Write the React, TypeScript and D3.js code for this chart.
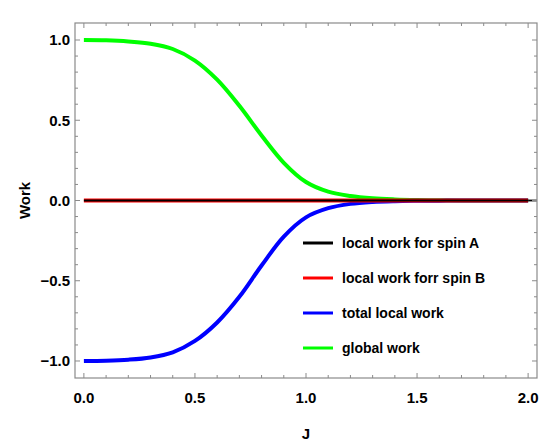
import React from "react";
import * as d3 from "d3";

const J = [0, 0.1, 0.2, 0.3, 0.4, 0.5, 0.6, 0.7, 0.8, 0.9, 1.0, 1.1, 1.2, 1.3, 1.4, 1.5, 1.6, 1.7, 1.8, 1.9, 2.0];
const localA = [0, 0, 0, 0, 0, 0, 0, 0, 0, 0, 0, 0, 0, 0, 0, 0, 0, 0, 0, 0, 0];
const localB = [0, 0, 0, 0, 0, 0, 0, 0, 0, 0, 0, 0, 0, 0, 0, 0, 0, 0, 0, 0, 0];
const totalLocal = [-1.0, -0.998, -0.992, -0.978, -0.946, -0.875, -0.76, -0.6, -0.405, -0.225, -0.105, -0.048, -0.021, -0.009, -0.004, -0.002, -0.001, 0, 0, 0, 0];
const globalWork = [1.0, 0.998, 0.991, 0.977, 0.944, 0.872, 0.753, 0.59, 0.405, 0.235, 0.115, 0.055, 0.028, 0.014, 0.007, 0.003, 0.001, 0, 0, 0, 0];

const xTicks = [0, 0.5, 1.0, 1.5, 2.0];
const yTicks = [-1.0, -0.5, 0.0, 0.5, 1.0];
const xTickLabels = ["0.0", "0.5", "1.0", "1.5", "2.0"];
const yTickLabels = ["\u22121.0", "\u22120.5", "0.0", "0.5", "1.0"];
const legendLabels = ["local work for spin A", "local work forr spin B", "total local work", "global work"];
const colors = ["#000000", "#ff0000", "#0000ff", "#00ff00"];

export default function App() {
  const left = 75, right = 537, top = 23, bottom = 378;
  const x = d3.scaleLinear().domain([-0.04, 2.04]).range([left, right]);
  const y = d3.scaleLinear().domain([-1.106, 1.106]).range([bottom, top]);
  const line = d3
    .line<number>()
    .x((_, i) => x(J[i]))
    .y((d) => y(d))
    .curve(d3.curveCatmullRom.alpha(0.5));

  const minorX = d3.range(0, 21).map((i) => i / 10);
  const minorY = d3.range(-10, 11).map((i) => i / 10);
  const isMajor = (v: number) => Math.abs(v * 2 - Math.round(v * 2)) < 1e-6;
  const font = "'Liberation Sans', Arial, sans-serif";
  const frameColor = "#8a8a8a";

  return (
    <svg width={550} height={448} style={{ position: "absolute", left: 0, top: 0, background: "#fff" }}>
      {/* series */}
      <path d={line(globalWork) || ""} fill="none" stroke={colors[3]} strokeWidth={4} />
      <path d={line(totalLocal) || ""} fill="none" stroke={colors[2]} strokeWidth={4} />
      <path d={line(localB) || ""} fill="none" stroke={colors[1]} strokeWidth={4} />
      <path d={line(localA) || ""} fill="none" stroke={colors[0]} strokeWidth={1.8} />
      <line x1={x(2.0)} x2={right} y1={y(0)} y2={y(0)} stroke="#000" strokeWidth={1.8} />

      {/* frame */}
      <rect x={left} y={top} width={right - left} height={bottom - top} fill="none" stroke={frameColor} strokeWidth={1.2} />
      {minorX.map((v, i) => {
        const len = isMajor(v) ? 5 : 3;
        return (
          <g key={"xt" + i} stroke={frameColor} strokeWidth={1}>
            <line x1={x(v)} x2={x(v)} y1={bottom} y2={bottom - len} />
            <line x1={x(v)} x2={x(v)} y1={top} y2={top + len} />
          </g>
        );
      })}
      {minorY.map((v, i) => {
        const len = isMajor(v) ? 5 : 3;
        return (
          <g key={"yt" + i} stroke={frameColor} strokeWidth={1}>
            <line x1={left} x2={left + len} y1={y(v)} y2={y(v)} />
            <line x1={right} x2={right - len} y1={y(v)} y2={y(v)} />
          </g>
        );
      })}

      {/* tick labels */}
      {xTicks.map((v, i) => (
        <text key={"xl" + i} x={x(v)} y={403} textAnchor="middle" fontFamily={font} fontWeight="bold" fontSize={15} fill="#000">
          {xTickLabels[i]}
        </text>
      ))}
      {yTicks.map((v, i) => (
        <text key={"yl" + i} x={70} y={y(v)} dy="0.35em" textAnchor="end" fontFamily={font} fontWeight="bold" fontSize={15} fill="#000">
          {yTickLabels[i]}
        </text>
      ))}

      {/* axis titles */}
      <text x={306} y={439} textAnchor="middle" fontFamily={font} fontWeight="bold" fontSize={15} fill="#000">J</text>
      <text transform={`translate(25,${y(0)}) rotate(-90)`} dy="0.35em" textAnchor="middle" fontFamily={font} fontWeight="bold" fontSize={15} fill="#000">Work</text>

      {/* legend */}
      {legendLabels.map((lab, i) => {
        const ly = 243 + i * 35;
        return (
          <g key={"lg" + i}>
            <line x1={303} x2={333} y1={ly} y2={ly} stroke={colors[i]} strokeWidth={3} />
            <text x={342} y={ly} dy="0.35em" fontFamily={font} fontWeight="bold" fontSize={14} fill="#000">
              {lab}
            </text>
          </g>
        );
      })}
    </svg>
  );
}
